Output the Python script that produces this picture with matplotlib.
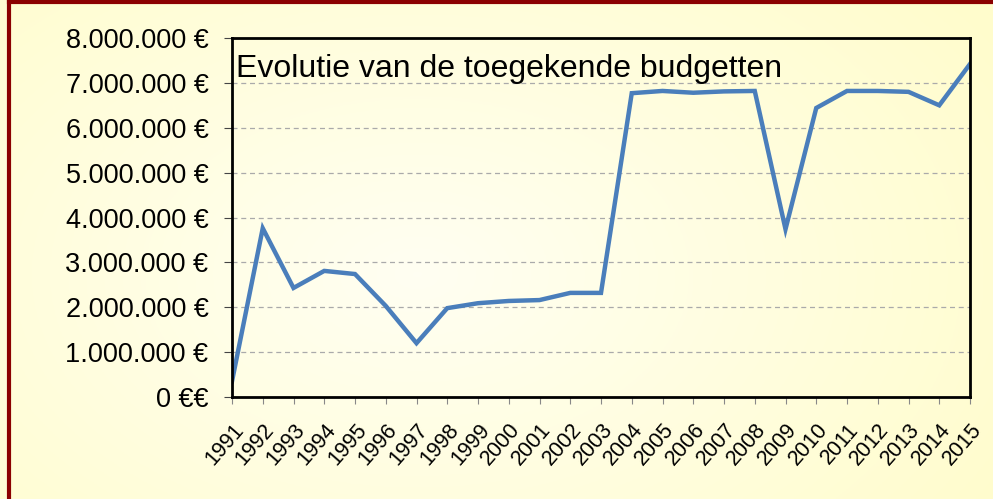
import numpy as np
import matplotlib.pyplot as plt
from matplotlib.ticker import FuncFormatter

plt.rcParams['font.family'] = ['Liberation Sans', 'DejaVu Sans']

# data
years = list(range(1991, 2016))
budget = [350000, 3760000, 2430000, 2810000, 2740000, 2030000, 1200000,
          1980000, 2090000, 2140000, 2160000, 2320000, 2320000,
          6770000, 6820000, 6780000, 6810000, 6820000, 3740000,
          6440000, 6820000, 6820000, 6800000, 6500000, 7420000]
title = 'Evolutie van de toegekende budgetten'

fig = plt.figure(figsize=(9.93, 4.99), dpi=100)

# radial background gradient on the figure
bg = fig.add_axes([0, 0, 1, 1], zorder=-10)
gx, gy = np.meshgrid(np.linspace(0, 1, 400), np.linspace(0, 1, 200))
r = np.sqrt(((gx - 0.42) / 0.7) ** 2 + ((gy - 0.45) / 0.9) ** 2)
r = np.clip(r, 0, 1)
c0 = np.array([1.0, 1.0, 0.95])
c1 = np.array([1.0, 0.99, 0.80])
img = c0[None, None, :] * (1 - r[..., None]) + c1[None, None, :] * r[..., None]
bg.imshow(img, extent=[0, 1, 0, 1], aspect='auto', origin='lower')
bg.plot([0.009, 0.009], [0, 0.995], color='#8B0000', lw=3)
bg.plot([0.009, 1], [0.995, 0.995], color='#8B0000', lw=3)
bg.set_xlim(0, 1)
bg.set_ylim(0, 1)
bg.axis('off')

ax = fig.add_axes([232 / 993, 1 - 397 / 499, (970 - 232) / 993, (397 - 38) / 499])
ax.patch.set_alpha(0)
ax.plot(years, budget, color='#4A7EBB', lw=3.2, solid_joinstyle='miter')
ax.set_xlim(1991, 2015)
ax.set_ylim(0, 8000000)
ax.set_yticks(np.arange(0, 8000001, 1000000))
ax.set_xticks(years)

def euro(v, pos):
    if v == 0:
        return '0 €€'
    return f'{int(v):,} €'.replace(',', '.')

ax.yaxis.set_major_formatter(FuncFormatter(euro))
ax.set_xticklabels([str(y) for y in years], rotation=49, ha='right',
                   rotation_mode='anchor', fontsize=15.5)
ax.tick_params(axis='y', labelsize=19.5, length=6, color='#444444', pad=11)
ax.tick_params(axis='x', length=5, color='#888888', pad=11)
for v in range(1000000, 8000000, 1000000):
    ax.axhline(v, color='#aaaaaa', lw=0.9, ls=(0, (4, 3)), zorder=0)
for s in ax.spines.values():
    s.set_linewidth(2)
    s.set_color('black')

ax.text(0.005, 0.955, title, transform=ax.transAxes, fontsize=23,
        va='top', ha='left')

fig.savefig('out.png', dpi=100)
